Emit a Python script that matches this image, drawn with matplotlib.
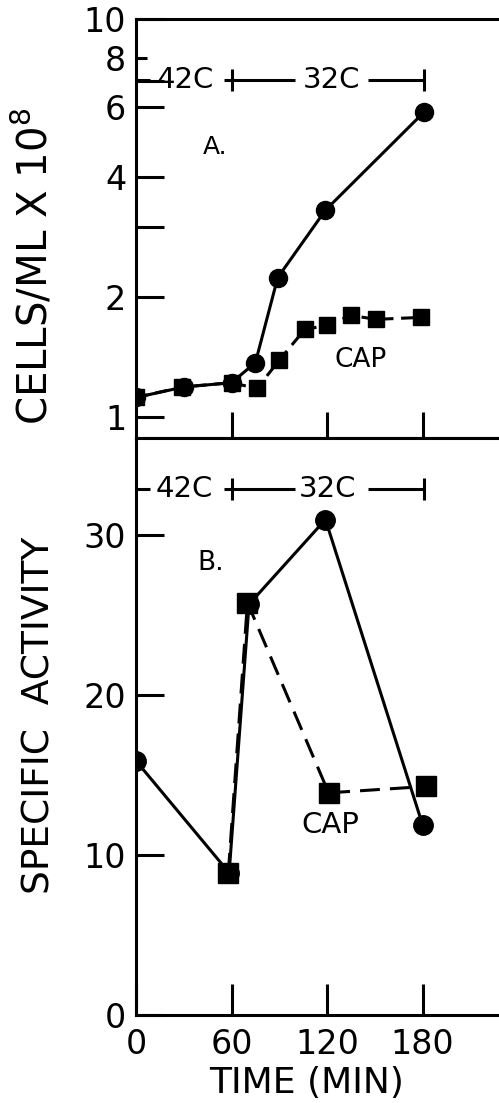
import matplotlib
matplotlib.use('Agg')
import matplotlib.pyplot as plt
from matplotlib.ticker import FixedLocator, FixedFormatter, NullFormatter

# panel A: cells/ml x 10^8 (log axis)
time_a_ctrl = [0, 30, 60, 75, 89, 119, 181]
cells_ctrl = [1.12, 1.19, 1.22, 1.37, 2.24, 3.31, 5.84]
time_a_cap = [0, 29, 60, 76, 90, 106, 120, 135, 151, 179]
cells_cap = [1.12, 1.19, 1.22, 1.18, 1.39, 1.66, 1.70, 1.80, 1.76, 1.78]

# panel B: specific activity
time_b_ctrl = [0, 58.5, 71, 119, 180]
act_ctrl = [15.9, 8.9, 25.7, 31.0, 11.9]
time_b_cap = [58, 70, 121, 182]
act_cap = [8.9, 25.8, 13.9, 14.3]

a_yticks = [1, 2, 3, 4, 6, 7, 10]
a_yticklabels = ['1', '2', '', '4', '6', '', '10']
b_yticks = [0, 10, 20, 30]
xticks = [0, 60, 120, 180]
xticklabels = ['0', '60', '120', '180']

LW = 2.2
plt.rcParams['font.family'] = 'DejaVu Sans'

fig = plt.figure(figsize=(4.99, 11.03), dpi=100)
ax_a = fig.add_axes([136 / 499, 1 - 438 / 1103, 363 / 499, 419 / 1103])
ax_b = fig.add_axes([136 / 499, 1 - 1015 / 1103, 363 / 499, 577 / 1103])


def style_axis(ax):
    for side in ['left', 'bottom', 'top']:
        ax.spines[side].set_linewidth(LW)
    ax.spines['right'].set_visible(False)
    ax.tick_params(direction='in', width=LW, length=20, labelsize=24)
    ax.set_xlim(0, 228)


def temp_bar(ax, y, t42, t32):
    kw = dict(color='k', lw=LW, solid_capstyle='butt')
    ax.plot([0, 9], [y, y], **kw)
    ax.text(t42, y, '42C', ha='center', va='center', fontsize=21)
    ax.plot([55, 100], [y, y], **kw)
    ax.text(t32, y, '32C', ha='center', va='center', fontsize=21)
    ax.plot([146, 181], [y, y], **kw)
    ax.plot([60, 181], [y, y], ls='none', marker='|', ms=16, mew=LW, color='k')


# ---- panel A
style_axis(ax_a)
ax_a.set_yscale('log')
ax_a.set_ylim(0.886, 10)
ax_a.plot(time_a_ctrl, cells_ctrl, '-', color='k', lw=LW,
          marker='o', ms=13, zorder=3)
ax_a.plot(time_a_cap, cells_cap, color='k', lw=LW, dashes=(4, 2.5),
          marker='s', ms=11.5, zorder=4)
ax_a.yaxis.set_major_locator(FixedLocator(a_yticks))
ax_a.yaxis.set_major_formatter(FixedFormatter(a_yticklabels))
ax_a.yaxis.set_minor_locator(FixedLocator([8]))
ax_a.yaxis.set_minor_formatter(FixedFormatter(['8']))
ax_a.tick_params(axis='y', which='minor', direction='in', width=LW,
                 length=8, labelsize=24, pad=7)
ax_a.tick_params(axis='y', which='major', pad=7)
ax_a.xaxis.set_major_locator(FixedLocator(xticks[1:]))
ax_a.xaxis.set_major_formatter(NullFormatter())
ax_a.xaxis.set_minor_locator(FixedLocator([]))
ax_a.tick_params(axis='x', length=19)
temp_bar(ax_a, 7.03, 31, 122.5)
ax_a.text(50, 4.77, 'A.', ha='center', va='center', fontsize=18)
ax_a.text(141, 1.39, 'CAP', ha='center', va='center', fontsize=19)
ax_a.set_ylabel('CELLS/ML X 10$^{8}$', fontsize=29, va='center')
ax_a.yaxis.set_label_coords(-0.28, 0.41)

# ---- panel B
style_axis(ax_b)
ax_b.set_ylim(0, 36.1)
ax_b.plot(time_b_ctrl, act_ctrl, '-', color='k', lw=LW,
          marker='o', ms=14, zorder=3)
ax_b.plot(time_b_cap, act_cap, color='k', lw=LW, dashes=(6.5, 3.3),
          marker='s', ms=14, zorder=4)
ax_b.set_yticks(b_yticks)
ax_b.set_xticks(xticks)
ax_b.set_xticklabels(xticklabels)
ax_b.tick_params(axis='y', pad=7)
ax_b.tick_params(axis='x', pad=9, length=22)
temp_bar(ax_b, 32.9, 30.4, 120.4)
ax_b.text(47, 28.3, 'B.', ha='center', va='center', fontsize=19)
ax_b.text(122, 11.9, 'CAP', ha='center', va='center', fontsize=21)
ax_b.set_ylabel('SPECIFIC  ACTIVITY', fontsize=27, va='center')
ax_b.yaxis.set_label_coords(-0.267, 0.52)
ax_b.set_xlabel('TIME (MIN)', fontsize=26, va='center')
ax_b.xaxis.set_label_coords(0.471, -0.118)

fig.savefig('out.png', dpi=100)
